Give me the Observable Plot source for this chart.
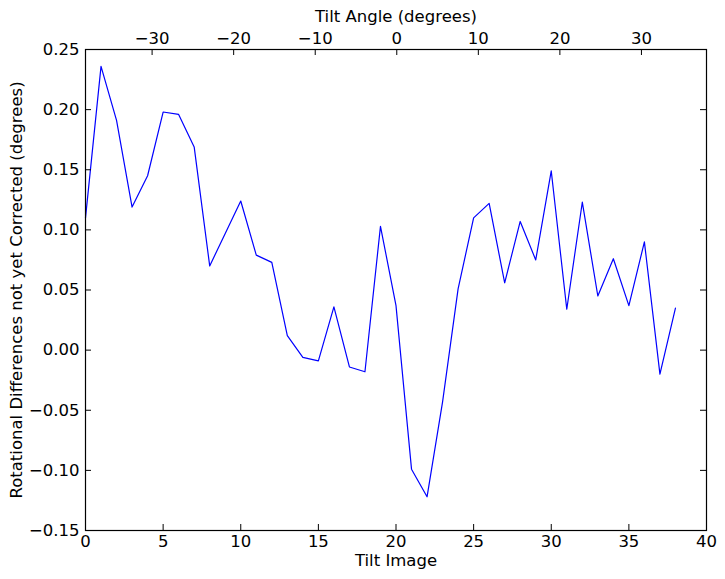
<!DOCTYPE html>
<html>
<head>
<meta charset="utf-8">
<script src="https://cdn.jsdelivr.net/npm/d3@7"></script>
<script src="https://cdn.jsdelivr.net/npm/@observablehq/plot@0.6"></script>
<style>
  html, body { margin: 0; padding: 0; background: #fff; }
</style>
</head>
<body>
<div id="chart"></div>
<script>
// Tilt image index (bottom axis)
const tiltImage = [0,1,2,3,4,5,6,7,8,9,10,11,12,13,14,15,16,17,18,19,20,21,22,23,24,25,26,27,28,29,30,31,32,33,34,35,36,37,38];
// Rotational differences not yet corrected (degrees)
const rotDiff = [0.110,0.236,0.191,0.119,0.145,0.198,0.196,0.169,0.070,0.097,0.124,0.079,0.073,0.012,-0.006,-0.009,0.036,-0.014,-0.018,0.103,0.037,-0.099,-0.122,-0.043,0.051,0.110,0.122,0.056,0.107,0.075,0.149,0.034,0.123,0.045,0.076,0.037,0.090,-0.020,0.035];

const xTicks = [0,5,10,15,20,25,30,35,40];
const yTicks = [-0.15,-0.10,-0.05,0.00,0.05,0.10,0.15,0.20,0.25];
const angleTicks = [-30,-20,-10,0,10,20,30];
// Tilt angle axis: image position of 0 degrees and degrees per image
const angleZeroImage = 20.05;
const degreesPerImage = 1.9036;
const angleToImage = a => angleZeroImage + a / degreesPerImage;

const data = tiltImage.map((x, i) => ({x, y: rotDiff[i]}));

const W = 725, H = 579, mL = 85, mR = 19, mT = 49, mB = 49;
const innerW = W - mL - mR, innerH = H - mT - mB;
const tickLen = 6;

const chart = Plot.plot({
  width: W,
  height: H,
  marginLeft: mL,
  marginRight: mR,
  marginTop: mT,
  marginBottom: mB,
  style: {fontFamily: "DejaVu Sans", fontSize: "16.5px", color: "black", background: "white"},
  x: {domain: [0, 40]},
  y: {domain: [-0.15, 0.25]},
  marks: [
    Plot.line(data, {x: "x", y: "y", stroke: "#0000ff", strokeWidth: 1.2}),
    // inward ticks
    Plot.tickX(xTicks, {x: d => d, stroke: "black", insetTop: innerH - tickLen}),
    Plot.tickX(angleTicks, {x: d => angleToImage(d), stroke: "black", insetBottom: innerH - tickLen}),
    Plot.tickY(yTicks, {y: d => d, stroke: "black", insetRight: innerW - tickLen}),
    Plot.tickY(yTicks, {y: d => d, stroke: "black", insetLeft: innerW - tickLen}),
    Plot.frame({stroke: "black", strokeWidth: 1.2}),
    // tick labels
    Plot.axisX({anchor: "bottom", ticks: xTicks, tickSize: 0, tickPadding: 5, tickFormat: d3.format("d"), label: null}),
    Plot.axisX({anchor: "top", ticks: angleTicks.map(angleToImage), tickSize: 0, tickPadding: 6,
      tickFormat: (d, i) => d3.format("d")(angleTicks[i]), label: null}),
    Plot.axisY({anchor: "left", ticks: yTicks, tickSize: 0, tickPadding: 6, tickFormat: d3.format(".2f"), label: null}),
    // axis titles
    Plot.text(["Tilt Image"], {frameAnchor: "bottom", dy: 30, lineAnchor: "middle", textAnchor: "middle", text: d => d, fill: "black"}),
    Plot.text(["Tilt Angle (degrees)"], {frameAnchor: "top", dy: -33, lineAnchor: "middle", textAnchor: "middle", text: d => d, fill: "black"}),
    Plot.text(["Rotational Differences not yet Corrected (degrees)"], {frameAnchor: "left", dx: -69, rotate: -90, lineAnchor: "middle", textAnchor: "middle", text: d => d, fill: "black"})
  ]
});
document.getElementById("chart").appendChild(chart);
</script>
</body>
</html>
